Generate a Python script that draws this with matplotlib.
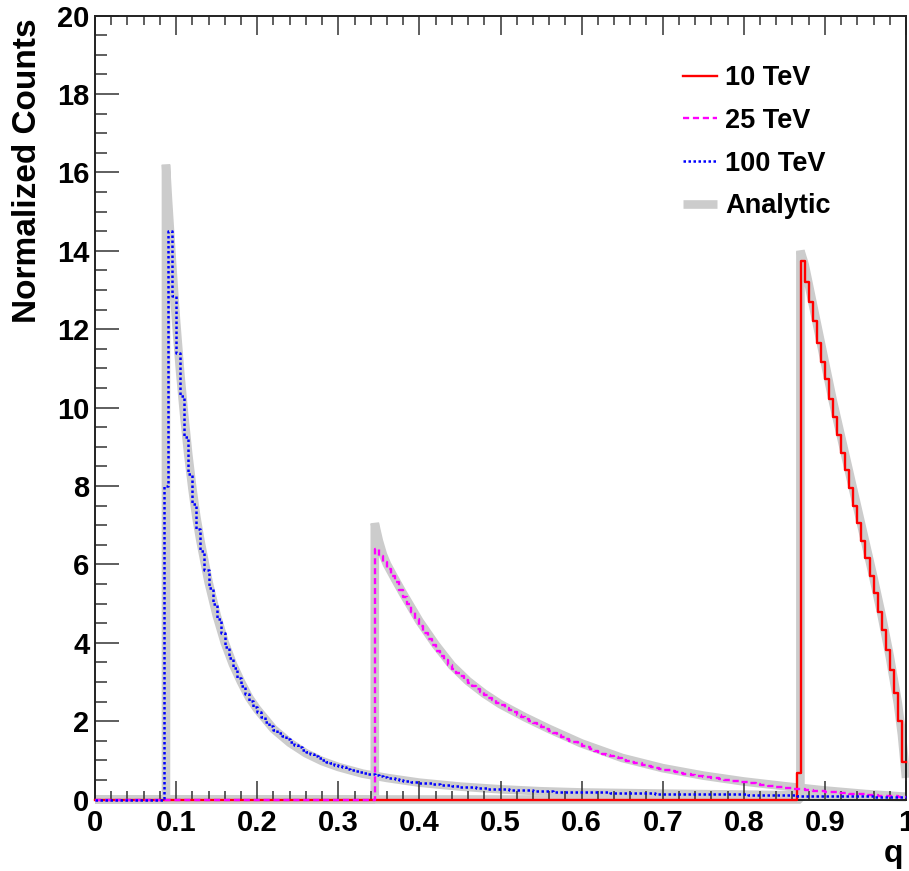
import numpy as np
import matplotlib
matplotlib.use("Agg")
import matplotlib.pyplot as plt
from matplotlib.lines import Line2D
from matplotlib.ticker import MultipleLocator, FixedLocator

plt.rcParams['font.family'] = ['Liberation Sans', 'DejaVu Sans']
plt.rcParams['font.weight'] = 'bold'

# ---------------- data ----------------
bin_width = 0.005
n_bins = 200

# 10 TeV histogram (first bin starts at q = 0.865)
red_start = 0.865
red_values = [0.68, 13.75, 13.21, 12.70, 12.21, 11.64, 11.17, 10.72, 10.21, 9.75,
              9.30, 8.85, 8.40, 7.95, 7.50, 7.05, 6.60, 6.15, 5.70, 5.26,
              4.79, 4.32, 3.81, 3.30, 2.71, 2.01, 0.96]

# 25 TeV histogram (first bin starts at q = 0.345)
pink_start = 0.345
pink_values = [6.38, 6.22, 6.05, 5.87, 5.70, 5.54, 5.35, 5.16, 4.98, 4.78,
               4.60, 4.42, 4.25, 4.09, 3.93, 3.80, 3.67, 3.55, 3.44, 3.34,
               3.24, 3.15, 3.06, 2.97, 2.89, 2.82, 2.74, 2.67, 2.60, 2.53,
               2.46, 2.40, 2.34, 2.28, 2.22, 2.16, 2.11, 2.06, 2.01, 1.96,
               1.90, 1.85, 1.80, 1.74, 1.69, 1.64, 1.59, 1.55, 1.50, 1.46,
               1.41, 1.37, 1.33, 1.29, 1.25, 1.21, 1.17, 1.14, 1.11, 1.08,
               1.05, 1.02, 0.99, 0.96, 0.94, 0.92, 0.89, 0.86, 0.84, 0.81,
               0.79, 0.76, 0.74, 0.72, 0.70, 0.68, 0.66, 0.65, 0.63, 0.61,
               0.60, 0.58, 0.57, 0.55, 0.54, 0.52, 0.51, 0.49, 0.48, 0.46,
               0.45, 0.44, 0.42, 0.41, 0.40, 0.38, 0.37, 0.35, 0.34, 0.33,
               0.32, 0.30, 0.29, 0.28, 0.27, 0.26, 0.24, 0.23, 0.22, 0.21,
               0.21, 0.20, 0.19, 0.18, 0.17, 0.17, 0.16, 0.15, 0.14, 0.14,
               0.13, 0.12, 0.12, 0.11, 0.10, 0.10, 0.09, 0.08, 0.08, 0.07,
               0.06]

# 100 TeV histogram (first bin starts at q = 0.085)
blue_start = 0.085
blue_values = [8.0, 14.5, 12.85, 11.4, 10.3, 9.25, 8.3, 7.55, 6.9, 6.35,
               5.85, 5.4, 5.0, 4.6, 4.25, 3.9, 3.6, 3.35, 3.1, 2.9,
               2.7, 2.52, 2.36, 2.22, 2.1, 1.98, 1.88, 1.78, 1.7, 1.62,
               1.54, 1.46, 1.4, 1.33, 1.26, 1.2, 1.15, 1.1, 1.05, 1.0,
               0.96, 0.92, 0.88, 0.85, 0.82, 0.79, 0.76, 0.73, 0.71, 0.68,
               0.66, 0.64, 0.62, 0.60, 0.58, 0.56, 0.54, 0.52, 0.50, 0.48,
               0.47, 0.45, 0.44, 0.43, 0.42, 0.41, 0.40, 0.39, 0.38, 0.37,
               0.36, 0.35, 0.34, 0.33, 0.33, 0.32, 0.31, 0.30, 0.30, 0.29,
               0.28, 0.28, 0.27, 0.26, 0.26, 0.25, 0.25, 0.24, 0.24, 0.23,
               0.23, 0.22, 0.22, 0.21, 0.21, 0.21, 0.20, 0.20, 0.20, 0.20,
               0.19, 0.19, 0.19, 0.19, 0.19, 0.18, 0.18, 0.18, 0.18, 0.18,
               0.17, 0.17, 0.17, 0.17, 0.17, 0.16, 0.16, 0.16, 0.16, 0.16,
               0.16, 0.15, 0.15, 0.15, 0.15, 0.15, 0.15, 0.14, 0.14, 0.14,
               0.14, 0.14, 0.14, 0.13, 0.13, 0.13, 0.13, 0.13, 0.13, 0.13,
               0.13, 0.13, 0.13, 0.13, 0.12, 0.12, 0.12, 0.12, 0.12, 0.12,
               0.11, 0.11, 0.11, 0.11, 0.11, 0.11, 0.10, 0.10, 0.10, 0.10,
               0.10, 0.10, 0.09, 0.09, 0.09, 0.09, 0.09, 0.09, 0.08, 0.08,
               0.08, 0.08, 0.08, 0.08, 0.08, 0.07, 0.07, 0.07, 0.07, 0.07,
               0.06, 0.06, 0.06]

# Analytic curves (q, value)
red_an_q = [0.0, 0.8698, 0.8698, 0.875, 0.88, 0.89, 0.90, 0.91, 0.92, 0.93, 0.94,
            0.95, 0.96, 0.97, 0.98, 0.99, 0.995, 1.0]
red_an_v = [0.0, 0.0, 14.0, 13.65, 13.15, 12.15, 11.15, 10.15, 9.25, 8.35, 7.45,
            6.55, 5.65, 4.7, 3.65, 2.45, 1.65, 0.55]

pink_an_q = [0.0, 0.345, 0.345, 0.35, 0.355, 0.36, 0.37, 0.38, 0.39, 0.40, 0.42,
             0.44, 0.46, 0.48, 0.50, 0.53, 0.56, 0.60, 0.65, 0.70, 0.75, 0.80,
             0.85, 0.90, 0.95, 1.0]
pink_an_v = [0.0, 0.0, 7.05, 6.6, 6.25, 6.0, 5.62, 5.25, 4.9, 4.55, 3.95,
             3.42, 3.02, 2.7, 2.43, 2.1, 1.8, 1.43, 1.06, 0.8, 0.61, 0.46,
             0.34, 0.23, 0.14, 0.07]

blue_an_q = [0.0, 0.0875, 0.0875, 0.09, 0.095, 0.10, 0.105, 0.11, 0.115, 0.12,
             0.125, 0.13, 0.14, 0.15, 0.16, 0.17, 0.18, 0.19, 0.20, 0.22, 0.24,
             0.26, 0.28, 0.30, 0.33, 0.36, 0.40, 0.45, 0.50, 0.55, 0.60, 0.70,
             0.80, 0.90, 1.0]
blue_an_v = [0.0, 0.0, 16.2, 15.3, 13.7, 12.2, 10.9, 9.8, 8.8, 7.95,
             7.2, 6.6, 5.55, 4.7, 4.0, 3.45, 3.0, 2.6, 2.3, 1.8, 1.45,
             1.18, 0.98, 0.83, 0.66, 0.55, 0.43, 0.33, 0.26, 0.21, 0.18, 0.15,
             0.125, 0.095, 0.06]

legend_labels = ["10 TeV", "25 TeV", "100 TeV", "Analytic"]
x_tick_labels = ["0", "0.1", "0.2", "0.3", "0.4", "0.5", "0.6", "0.7", "0.8", "0.9", "1"]
y_tick_labels = ["0", "2", "4", "6", "8", "10", "12", "14", "16", "18", "20"]

# ---------------- helpers ----------------
edges = np.linspace(0.0, 1.0, n_bins + 1)


def full_hist(start, vals):
    h = np.zeros(n_bins)
    i0 = int(round(start / bin_width))
    h[i0:i0 + len(vals)] = vals
    return h


red_h = full_hist(red_start, red_values)
pink_h = full_hist(pink_start, pink_values)
blue_h = full_hist(blue_start, blue_values)

# ---------------- figure ----------------
W, H = 909, 871
fig = plt.figure(figsize=(W / 100, H / 100), dpi=100)
L, R, T, B = 95, 906, 15.7, 799.5
ax = fig.add_axes([L / W, 1 - B / H, (R - L) / W, (B - T) / H])

grey = '#cccccc'
an_lw = 6.2
for q, v in ((red_an_q, red_an_v), (pink_an_q, pink_an_v), (blue_an_q, blue_an_v)):
    ax.plot(q, v, color=grey, lw=an_lw, solid_capstyle='butt',
            solid_joinstyle='bevel', clip_on=False, zorder=1)


def draw_hist(h, **kw):
    ax.step(edges, np.append(h, h[-1]), where='post', clip_on=False, zorder=4, **kw)


draw_hist(red_h, color='#ff0000', lw=1.7, linestyle='-')
draw_hist(pink_h, color='#ff00ff', lw=1.7, linestyle=(0, (2.6, 1.6)))
draw_hist(blue_h, color='#0000ff', lw=1.8, linestyle=(0, (1.0, 1.0)))

ax.set_xlim(0, 1)
ax.set_ylim(0, 20)

ax.xaxis.set_major_locator(FixedLocator(np.linspace(0, 1, 11)))
ax.set_xticklabels(x_tick_labels)
ax.xaxis.set_minor_locator(MultipleLocator(0.02))
ax.yaxis.set_major_locator(FixedLocator(np.arange(0, 21, 2)))
ax.set_yticklabels(y_tick_labels)
ax.yaxis.set_minor_locator(MultipleLocator(0.5))

ax.tick_params(axis='x', which='both', direction='in', top=True, bottom=True,
               color='#333333', width=1.1, labelsize=21, pad=7)
ax.tick_params(axis='x', which='major', length=13.5)
ax.tick_params(axis='x', which='minor', length=6.5)
ax.tick_params(axis='y', which='both', direction='in', left=True, right=False,
               color='#333333', width=1.1, labelsize=21, pad=4)
ax.tick_params(axis='y', which='major', length=17)
ax.tick_params(axis='y', which='minor', length=8.5)
for lab in ax.get_xticklabels() + ax.get_yticklabels():
    lab.set_fontweight('bold')

for s in ax.spines.values():
    s.set_linewidth(1.4)
    s.set_color('#222222')
    s.set_zorder(3)

ax.set_ylabel("Normalized Counts", fontsize=24, fontweight='bold', loc='top')
ax.yaxis.set_label_coords(-0.064, 0.997)
ax.set_xlabel("q", fontsize=23, fontweight='bold', loc='right')
ax.xaxis.set_label_coords(0.997, -0.051)

handles = [
    Line2D([], [], color='#ff0000', lw=1.7, linestyle='-'),
    Line2D([], [], color='#ff00ff', lw=1.7, linestyle=(0, (2.6, 1.6))),
    Line2D([], [], color='#0000ff', lw=1.8, linestyle=(0, (1.0, 1.0))),
    Line2D([], [], color=grey, lw=an_lw, solid_capstyle='butt'),
]
leg = ax.legend(handles, legend_labels, loc='upper left',
                bbox_to_anchor=((683 - L) / (R - L), (B - 65) / (B - T)),
                frameon=False, fontsize=19.5, handlelength=1.25,
                handletextpad=0.3, labelspacing=0.62, borderpad=0,
                borderaxespad=0)
for t in leg.get_texts():
    t.set_fontweight('bold')

fig.savefig("out.png", dpi=100)
